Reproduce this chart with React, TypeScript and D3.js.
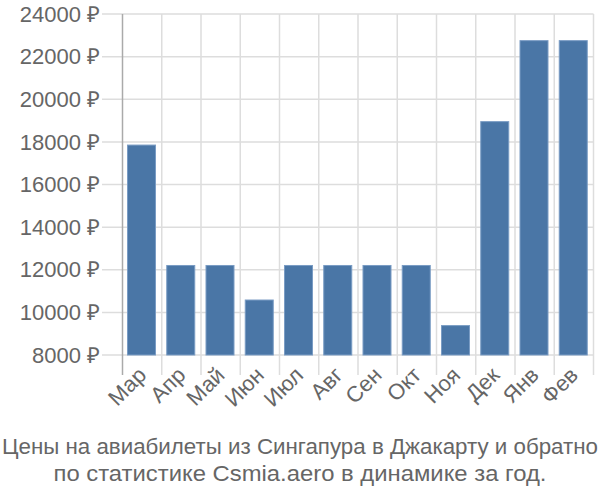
import React from "react";
import * as d3 from "d3";

const months = ["Мар", "Апр", "Май", "Июн", "Июл", "Авг", "Сен", "Окт", "Ноя", "Дек", "Янв", "Фев"];
const prices = [17850, 12200, 12200, 10580, 12200, 12200, 12200, 12200, 9380, 18950, 22750, 22750];
const yTicks = [8000, 10000, 12000, 14000, 16000, 18000, 20000, 22000, 24000];
const titleLines = [
  "Цены на авиабилеты из Сингапура в Джакарту и обратно",
  "по статистике Csmia.aero в динамике за год.",
];
const titleWidths = [596, 493];

export default function App() {
  const left = 122.5, right = 593.5, top = 14, bottom = 355;
  const x = d3.scaleBand<string>().domain(months).range([left, right]);
  const y = d3.scaleLinear().domain([8000, 24000]).range([bottom, top]);
  const step = x.step();
  const font = "'Liberation Sans', Arial, sans-serif";
  const grey = "#666";
  return (
    <svg width={600} height={500} style={{ position: "absolute", left: 0, top: 0 }}>
      {yTicks.map((t) => (
        <g key={t}>
          <line x1={102} x2={right} y1={y(t)} y2={y(t)} stroke="#ddd" strokeWidth={1.5} />
          <text x={100} y={y(t)} dy="0.35em" textAnchor="end" fontFamily={font} fontSize={22} fill={grey}>
            {t} ₽
          </text>
        </g>
      ))}
      {months.map((m) => {
        const bx = x(m)! + step;
        return (
          <line key={m} x1={bx} x2={bx} y1={top} y2={375} stroke="#ddd" strokeWidth={1.5} />
        );
      })}
      <line x1={left} x2={left} y1={top} y2={375} stroke="#aaa" strokeWidth={1.5} />
      {months.map((m, i) => (
        <rect
          key={m}
          x={x(m)! + 5}
          y={y(prices[i])}
          width={28}
          height={bottom - y(prices[i])}
          fill="#4a76a6"
          stroke="#7a9cc4"
          strokeWidth={1}
        />
      ))}
      {months.map((m) => {
        const cx = x(m)! + step / 2;
        return (
          <text
            key={m}
            transform={`translate(${cx},${371}) rotate(-45)`}
            textAnchor="end"
            dy="0.35em"
            fontFamily={font}
            fontSize={22}
            fill={grey}
          >
            {m}
          </text>
        );
      })}
      {titleLines.map((l, i) => (
        <text
          key={i}
          x={300}
          y={454 + i * 27}
          textAnchor="middle"
          fontFamily={font}
          fontSize={22}
          fill={grey}
          textLength={titleWidths[i]}
          lengthAdjust="spacingAndGlyphs"
        >
          {l}
        </text>
      ))}
    </svg>
  );
}
